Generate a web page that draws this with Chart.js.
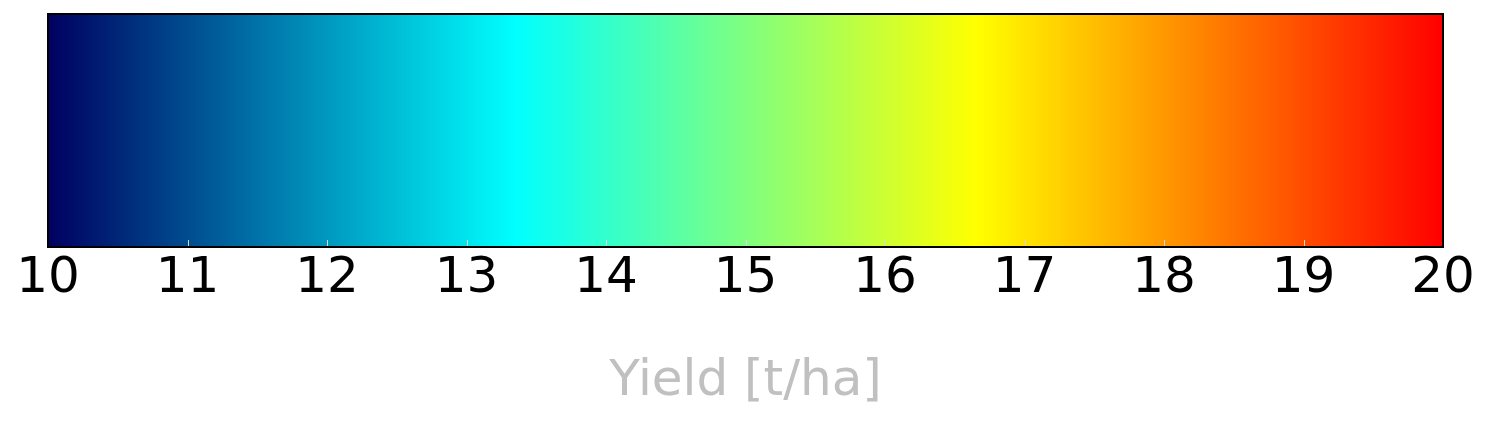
<!DOCTYPE html>
<html>
<head>
<meta charset="utf-8">
<script src="https://cdn.jsdelivr.net/npm/chart.js@4.4.1/dist/chart.umd.min.js"></script>
<style>
html,body{margin:0;padding:0;background:#fff;}
#wrap{width:1491px;height:422px;position:relative;}
</style>
</head>
<body>
<div id="wrap"><canvas id="c" width="1491" height="422"></canvas></div>
<script>
// Colorbar range and ticks
const rangeMin = 10;
const rangeMax = 20;
const tickValues = [10, 11, 12, 13, 14, 15, 16, 17, 18, 19, 20];
const axisTitle = 'Yield [t/ha]';
// Colormap stops (fraction of range) and colours
const cmapStops = [0, 0.335, 0.665, 1];
const cmapColors = ['#000060', '#00ffff', '#ffff00', '#ff0000'];

const frameAndTicks = {
  id: 'frameAndTicks',
  afterDatasetsDraw(chart) {
    const {ctx, chartArea: a, scales: {x}} = chart;
    ctx.save();
    ctx.strokeStyle = '#d8d8d8';
    ctx.lineWidth = 1;
    tickValues.forEach(v => {
      const px = Math.round(x.getPixelForValue(v)) + 0.5;
      ctx.beginPath();
      ctx.moveTo(px, a.bottom);
      ctx.lineTo(px, a.bottom - 7);
      ctx.stroke();
    });
    ctx.strokeStyle = '#000';
    ctx.lineWidth = 2;
    ctx.strokeRect(a.left, a.top, a.right - a.left, a.bottom - a.top);
    ctx.restore();
  }
};

new Chart(document.getElementById('c'), {
  type: 'bar',
  data: {
    labels: [''],
    datasets: [{
      data: [[rangeMin, rangeMax]],
      barPercentage: 1,
      categoryPercentage: 1,
      borderWidth: 0,
      backgroundColor(ctx) {
        const chart = ctx.chart;
        if (!chart.chartArea) return '#000060';
        const xs = chart.scales.x;
        const g = chart.ctx.createLinearGradient(xs.getPixelForValue(rangeMin), 0, xs.getPixelForValue(rangeMax), 0);
        cmapStops.forEach((s, i) => g.addColorStop(s, cmapColors[i]));
        return g;
      }
    }]
  },
  options: {
    indexAxis: 'y',
    responsive: false,
    animation: false,
    layout: {padding: {left: 48, right: 48, top: 14, bottom: 10}},
    plugins: {legend: {display: false}, tooltip: {enabled: false}},
    scales: {
      y: {display: false},
      x: {
        type: 'linear',
        min: rangeMin,
        max: rangeMax,
        afterBuildTicks(scale) { scale.ticks = tickValues.map(v => ({value: v})); },
        grid: {display: false},
        border: {display: false},
        ticks: {
          color: '#000',
          padding: -6,
          maxRotation: 0,
          autoSkip: false,
          font: {family: 'DejaVu Sans', size: 50}
        },
        title: {
          display: true,
          text: axisTitle,
          color: '#c0c0c0',
          padding: {top: 49, bottom: 0},
          font: {family: 'DejaVu Sans', size: 50}
        }
      }
    }
  },
  plugins: [frameAndTicks]
});
</script>
</body>
</html>
